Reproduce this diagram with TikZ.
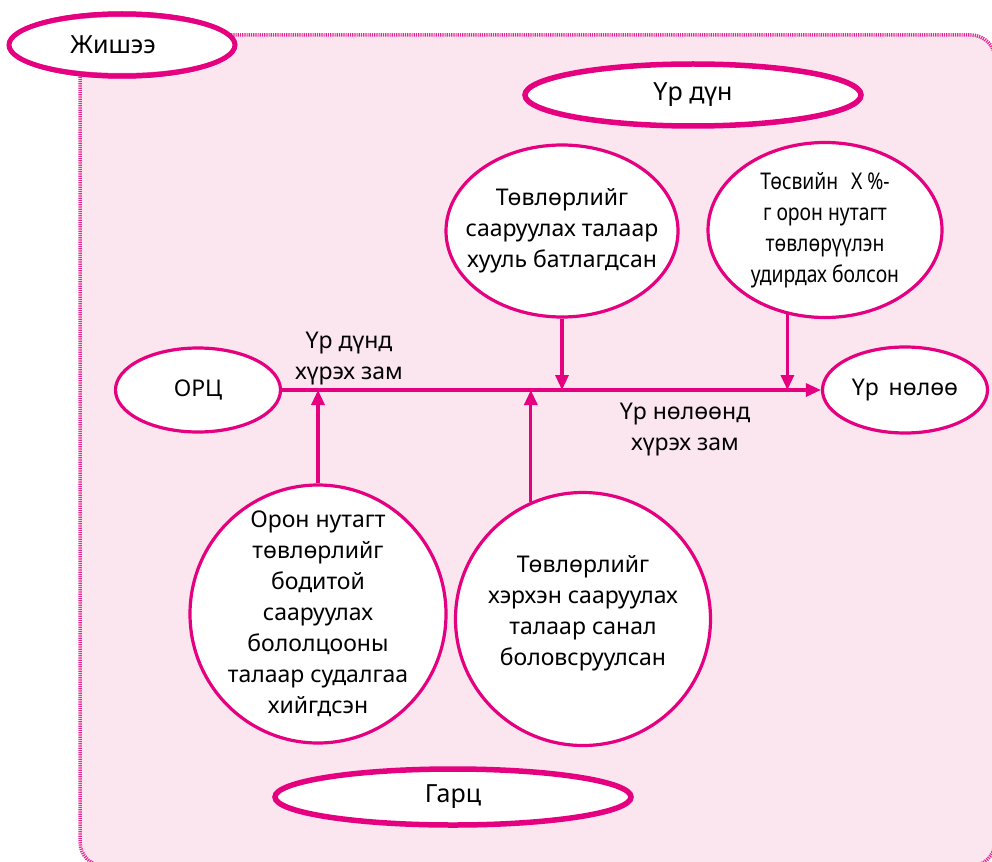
\documentclass[tikz,border=0pt]{standalone}
\usepackage{fontspec}
\setmainfont{Noto Sans}
\newfontfamily\condfont[FakeStretch=0.84]{Noto Sans}
\usetikzlibrary{shapes.geometric,arrows.meta}
\definecolor{mag}{HTML}{E4007F}
\definecolor{panelpink}{HTML}{FBE5EF}
\begin{document}
\begin{tikzpicture}[x=1pt,y=-1pt,
  txt/.style={font=\fontsize{23}{31}\selectfont, text=black},
  bigtxt/.style={font=\fontsize{25}{31}\selectfont, text=black},
  ell/.style={ellipse, draw=mag, fill=white, line width=3.2pt, inner sep=0pt, align=center, txt},
  bigell/.style={ell, line width=5.5pt, bigtxt},
  inlabel/.style={label={[txt, align=center]center:#1}},
  lbl/.style={txt, align=center, inner sep=0pt},
  conn/.style={draw=mag, line width=3.2pt, -{Triangle[length=15pt,width=13pt]}},
  panelborder/.style={draw=mag!85, fill=panelpink, line width=3.5pt, dash pattern=on 1.2pt off 1pt, rounded corners=24pt}
]
\useasboundingbox (0,0) rectangle (992,861);
\begin{scope}
  \clip (0,0) rectangle (992,861);
  \path[panelborder] (80,35) rectangle (995,866);
\end{scope}

% example badge
\node[ell, line width=5pt, minimum width=226pt, minimum height=62pt] (ex) at (122,45) {};
\draw[mag, line width=1.5pt] (ex.center) ellipse [x radius=114pt, y radius=33pt];
\draw[mag, line width=1pt, opacity=0.6] (ex.center) ellipse [x radius=112pt, y radius=28.5pt];
\node[lbl, bigtxt] (extext) at (113,45) {Жишээ};

% main nodes
\node[bigell, minimum width=336pt, minimum height=62pt] (res) at (693,95) {Үр дүн};
\node[bigell, minimum width=356pt, minimum height=56pt] (outp) at (453,797) {Гарц};
\node[ell, minimum width=165pt, minimum height=84pt] (orc) at (198,390) {ОРЦ};
\node[ell, minimum width=165pt, minimum height=86pt] (imp) at (905,390) {Үр\, нөлөө};

\node[ell, minimum width=232pt, minimum height=172pt,
  inlabel={Төвлөрлийг\\сааруулах талаар\\хууль батлагдсан}] (t1) at (562,231) {};
\node[ell, minimum width=234pt, minimum height=175pt,
  inlabel={\condfont Төсвийн\,\, X \%-\\\condfont г орон нутагт\\\condfont төвлөрүүлэн\\\condfont удирдах болсон}] (t2) at (825,230) {};
\node[ell, minimum width=256pt, minimum height=258pt,
  inlabel={Орон нутагт\\төвлөрлийг\\бодитой\\сааруулах\\бололцооны\\талаар судалгаа\\хийгдсэн}] (b1) at (318,614) {};
\node[ell, minimum width=255pt, minimum height=253pt] (b2) at (583,619) {};
\node[lbl] (b2text) at (583,613) {Төвлөрлийг\\хэрхэн сааруулах\\талаар санал\\боловсруулсан};

% path labels
\node[lbl] (l1) at (349,359) {Үр дүнд\\хүрэх зам};
\node[lbl] (l2) at (685,430) {Үр нөлөөнд\\хүрэх зам};

% connectors
\draw[conn] (orc.east) -- (imp.west);
\draw[conn] (t1.south) -- (t1.south |- orc.east);
\draw[conn] (t2.246) -- (t2.246 |- orc.east);
\draw[conn] (b1.north) -- (b1.north |- orc.east);
\draw[conn] (b2.114) -- (b2.114 |- orc.east);
\end{tikzpicture}
\end{document}
